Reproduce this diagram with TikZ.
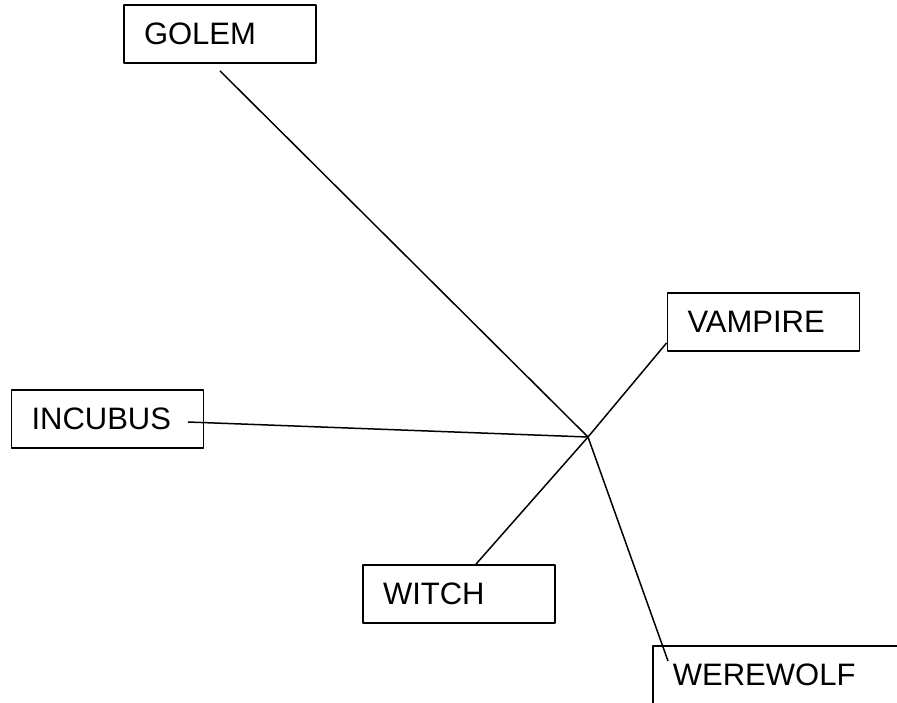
\documentclass[tikz,border=0pt]{standalone}
\usepackage{fontspec}
\setmainfont{Liberation Sans}
\begin{document}
\begin{tikzpicture}[x=1pt,y=-1pt,line join=round,
	o/.style={rectangle,draw,line width=1.8pt,text width=152pt,inner xsep=20pt,
		minimum height=58pt,align=left,font=\fontsize{31}{37}\selectfont},
	noi/.style={line width=1.5pt}]
	\clip(0,0)rectangle(897,702);
	\path(220,34)node[o](golem){GOLEM}
	(763.5,322)node[o](vampire){VAMPIRE}
	(107.5,419)node[o](incubus){INCUBUS}
	(459,594)node[o](witch){WITCH}
	(652,645)node[o,anchor=north west,text width=220pt](werewolf){WEREWOLF}
	;
	\coordinate(t) at (588,437);
	\coordinate(g1) at ([yshift=-7pt]golem.south);
	\coordinate(i1) at (188,422);
	\coordinate(w1) at ([xshift=16pt,yshift=-16pt]werewolf.north west);
	\draw[noi](g1)--(t);
	\draw[noi](i1)--(t);
	\draw[noi](t)--([yshift=9pt]vampire.south west);
	\draw[noi](t)--([xshift=17pt]witch.north);
	\draw[noi](t)--(w1);
\end{tikzpicture}
\end{document}
